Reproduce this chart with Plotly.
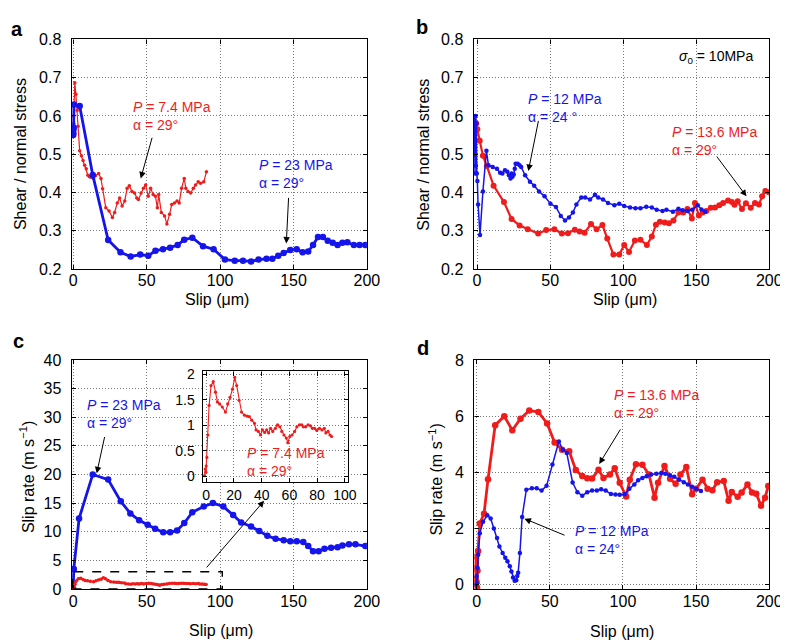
import plotly.graph_objects as go

BLUE = "rgb(20,20,235)"
RED = "rgb(240,28,28)"
FONT = "Liberation Sans, Arial, Helvetica, sans-serif"

# ---------------- Panel a: shear / normal stress vs slip ----------------
a_blue_x = [0, 0.1, 0.2, 0.3, 0.5, 4.4, 13.3, 23.8, 32.2, 39.1, 45.6, 51.1, 56.0, 61.1, 66.0,
            71.1, 75.6, 81.1, 88.4, 95.6, 103.3, 110.0, 115.6, 121.1, 126.2, 131.6, 135.6, 139.6,
            143.3, 147.8, 152.2, 156.2, 160.0, 163.3, 166.7, 170.0, 173.3, 176.7, 180.0, 183.3,
            186.7, 191.1, 195.0, 198.9]
a_blue_y = [0.55, 0.555, 0.565, 0.57, 0.63, 0.626, 0.446, 0.276, 0.244, 0.233, 0.238, 0.235, 0.248,
            0.252, 0.256, 0.263, 0.277, 0.282, 0.26, 0.252, 0.225, 0.222, 0.222, 0.22, 0.225, 0.227,
            0.227, 0.235, 0.242, 0.25, 0.252, 0.244, 0.246, 0.263, 0.284, 0.284, 0.274, 0.269, 0.263,
            0.269, 0.27, 0.263, 0.263, 0.263]
a_red_x = [0, 0.2, 0.4, 0.6, 1.1, 1.8, 2.7, 3.3, 4.4, 5.6, 6.7, 7.8, 8.9, 10.0, 11.1, 12.2, 13.8,
           15.1, 17.3, 18.9, 20.0, 22.2, 24.4, 26.7, 28.2, 30.0, 31.6, 33.3, 35.1, 36.7, 38.2, 40.0,
           41.8, 43.3, 44.4, 46.2, 47.8, 49.3, 51.1, 52.7, 54.4, 56.0, 57.3, 58.2, 60.0, 62.2, 63.8,
           65.6, 67.1, 68.9, 70.7, 72.2, 73.8, 75.6, 76.7, 78.2, 80.0, 81.8, 83.3, 85.1, 86.7, 88.9,
           90.7]
a_red_y = [0.556, 0.6, 0.58, 0.632, 0.687, 0.657, 0.615, 0.573, 0.509, 0.496, 0.484, 0.471, 0.462,
           0.445, 0.441, 0.44, 0.437, 0.444, 0.45, 0.437, 0.41, 0.36, 0.352, 0.335, 0.348, 0.373,
           0.386, 0.365, 0.378, 0.411, 0.418, 0.403, 0.399, 0.386, 0.382, 0.399, 0.411, 0.42, 0.39,
           0.411, 0.395, 0.39, 0.36, 0.395, 0.348, 0.339, 0.318, 0.343, 0.369, 0.373, 0.378, 0.373,
           0.411, 0.437, 0.411, 0.403, 0.399, 0.411, 0.42, 0.428, 0.424, 0.428, 0.454]

# ---------------- Panel b ----------------
b_blue_x = [-2.0, -1.7, -1.4, -1.1, -0.8, -0.5, -0.2, 0.2, 0.7, 2.0, 4.0, 6.4, 7.8, 10.7, 13.6,
            15.8, 17.3, 19.1, 20.7, 21.8, 22.9, 23.6, 24.2, 25.1, 25.8, 26.4, 27.8, 29.1, 30.2,
            32.9, 36.2, 39.1, 42.4, 46.2, 50.2, 54.0, 57.3, 60.2, 62.9, 65.6, 68.0, 71.3, 74.0,
            77.3, 80.7, 82.9, 86.2, 89.6, 94.0, 97.3, 100.7, 104.7, 108.4, 111.8, 115.8, 119.6,
            122.9, 126.9, 129.6, 134.0, 137.8, 140.7, 144.0, 147.3, 151.1, 153.6, 156.2]
b_blue_y = [0.5, 0.59, 0.45, 0.6, 0.47, 0.58, 0.45, 0.43, 0.369, 0.289, 0.403, 0.509, 0.471,
            0.467, 0.462, 0.452, 0.45, 0.458, 0.454, 0.445, 0.437, 0.45, 0.441, 0.447, 0.462,
            0.475, 0.475, 0.471, 0.467, 0.445, 0.428, 0.418, 0.403, 0.39, 0.371, 0.362, 0.339,
            0.327, 0.335, 0.348, 0.369, 0.387, 0.387, 0.382, 0.394, 0.387, 0.382, 0.373, 0.367,
            0.371, 0.365, 0.361, 0.359, 0.359, 0.363, 0.361, 0.355, 0.352, 0.355, 0.35, 0.358,
            0.354, 0.352, 0.355, 0.367, 0.356, 0.35]
b_red_x = [-2.0, -1.8, -1.2, -0.5, 0.2, 1.8, 4.0, 6.7, 11.3, 18.4, 23.6, 29.1, 34.7, 41.8, 47.3,
           52.9, 58.0, 62.2, 66.9, 70.2, 73.6, 78.0, 81.8, 85.8, 89.1, 93.3, 97.3, 100.7, 104.0,
           108.0, 111.8, 116.2, 119.6, 122.4, 125.1, 128.4, 131.3, 134.4, 137.8, 141.1, 144.0,
           147.0, 149.1, 151.8, 154.4, 156.9, 160.0, 162.9, 165.8, 168.4, 171.8, 174.4, 176.2,
           178.4, 181.3, 184.0, 187.3, 190.2, 192.9, 195.1, 197.3, 199.6]
b_red_y = [0.56, 0.575, 0.56, 0.58, 0.565, 0.535, 0.496, 0.469, 0.418, 0.375, 0.331, 0.314, 0.304,
           0.293, 0.302, 0.304, 0.293, 0.294, 0.303, 0.298, 0.295, 0.318, 0.304, 0.315, 0.28,
           0.238, 0.238, 0.263, 0.245, 0.275, 0.277, 0.263, 0.285, 0.316, 0.324, 0.322, 0.32,
           0.327, 0.348, 0.348, 0.357, 0.332, 0.373, 0.34, 0.348, 0.352, 0.36, 0.361, 0.367,
           0.373, 0.379, 0.375, 0.368, 0.377, 0.357, 0.372, 0.36, 0.373, 0.369, 0.39, 0.404, 0.401]

# ---------------- Panel c: slip rate ----------------
c_blue_x = [0, 0.4, 4.0, 13.3, 23.8, 32.4, 38.9, 44.9, 50.7, 55.8, 61.3, 66.0, 70.7, 75.6, 81.1,
            88.9, 95.1, 102.2, 108.9, 114.4, 121.1, 126.7, 132.2, 137.8, 143.3, 147.8, 152.2,
            156.7, 160.0, 163.3, 167.1, 171.1, 175.6, 180.0, 183.3, 187.8, 192.2, 198.9]
c_blue_y = [0, 3.5, 12.3, 20.0, 19.1, 15.3, 13.2, 12.0, 11.2, 10.5, 9.9, 9.9, 10.2, 11.5, 13.4,
            14.4, 15.0, 14.4, 12.9, 11.6, 10.9, 10.1, 9.3, 8.75, 8.5, 8.35, 8.35, 8.2, 7.5, 6.6,
            6.6, 7.0, 7.2, 7.3, 7.6, 7.8, 7.8, 7.5]
c_red_x = [-1.2, -0.7, -0.2, 0, 0.5, 1.2, 2.1, 3.5, 5.1, 6.7, 8.1, 9.7, 11.6, 13.9, 15.5, 17.2,
           19.0, 20.6, 22.0, 23.7, 25.5, 27.6, 29.5, 31.1, 32.9, 34.8, 36.0, 37.6, 39.2, 40.6,
           42.2, 43.6, 45.0, 46.4, 48.0, 49.9, 51.5, 53.1, 54.5, 56.1, 57.8, 58.9, 60.3, 61.9,
           63.8, 65.4, 67.3, 68.9, 70.1, 71.7, 73.5, 75.2, 76.6, 78.2, 79.8, 81.7, 83.5, 85.2,
           86.3, 87.9, 89.3, 90.5]
c_red_y = [0.01, 0.14, 0.08, 0.2, 0.37, 0.81, 1.39, 1.78, 1.86, 1.65, 1.46, 1.42, 1.36, 1.26,
           1.42, 1.55, 1.71, 1.94, 1.78, 1.49, 1.26, 1.2, 1.18, 1.17, 1.1, 1.04, 0.91, 0.88, 0.81,
           0.91, 0.86, 0.91, 0.85, 0.94, 0.88, 0.94, 1.01, 0.97, 0.88, 0.81, 0.75, 0.66, 0.78,
           0.81, 0.88, 0.97, 1.01, 1.01, 0.97, 0.97, 1.01, 0.99, 0.94, 0.94, 0.9, 0.94, 0.91,
           0.94, 0.85, 0.88, 0.81, 0.78]

# ---------------- Panel d ----------------
d_red_x = [-0.7, -0.5, -0.3, 0, 0.3, 0.6, 1.0, 2.2, 5.1, 7.8, 12.7, 18.9, 24.4, 30.0, 36.0, 42.2,
           48.2, 53.3, 58.4, 63.3, 67.8, 72.2, 75.6, 78.9, 83.3, 86.7, 91.1, 94.4, 97.8, 102.2,
           104.7, 108.9, 113.3, 117.8, 121.6, 124.0, 128.4, 132.2, 136.0, 139.3, 143.3, 147.3,
           150.0, 154.4, 157.8, 161.1, 164.4, 168.9, 172.2, 174.4, 178.4, 181.1, 185.1, 188.2,
           191.1, 194.4, 197.1, 199.3]
d_red_y = [0.2, 1.0, 0.6, 0.1, -0.1, 0.5, 1.2, 2.18, 2.53, 3.75, 5.68, 6.0, 5.5, 5.91, 6.2, 6.15,
           5.74, 5.06, 4.8, 4.75, 4.08, 3.87, 3.79, 3.78, 4.09, 3.8, 3.92, 4.15, 3.63, 3.14, 3.74,
           4.29, 4.27, 3.92, 3.1, 3.63, 4.23, 3.77, 3.59, 3.92, 4.19, 3.22, 3.42, 3.74, 3.42, 3.36,
           3.65, 3.69, 2.99, 3.3, 3.13, 3.28, 3.57, 3.28, 3.24, 2.81, 3.1, 3.51]
d_blue_x = [-0.5, 0, 0.3, 0.6, 1.1, 2.2, 4.4, 7.3, 9.6, 11.8, 14.0, 15.6, 17.8, 19.6, 21.1, 22.7,
            23.8, 24.9, 26.0, 27.1, 27.8, 28.4, 29.6, 31.1, 34.0, 37.8, 41.1, 44.4, 47.8, 51.8,
            56.2, 58.9, 61.6, 65.6, 68.9, 72.2, 75.6, 78.9, 82.2, 85.1, 88.2, 91.8, 94.9, 97.8,
            101.1, 104.4, 107.8, 110.4, 113.3, 116.2, 119.3, 122.9, 126.2, 128.9, 132.2, 135.1,
            138.4, 141.6, 144.4, 147.3, 150.0, 153.3]
d_blue_y = [0.0, 0.3, 0.05, 0.6, 1.07, 1.83, 2.24, 2.47, 2.36, 2.0, 1.66, 1.36, 1.13, 0.96, 0.84,
            0.66, 0.47, 0.26, 0.14, 0.16, 0.31, 0.43, 1.13, 2.41, 3.38, 3.43, 3.43, 3.35, 3.52,
            4.28, 5.1, 4.8, 4.69, 3.64, 3.29, 3.17, 3.29, 3.35, 3.35, 3.4, 3.35, 3.23, 3.21, 3.2,
            3.22, 3.42, 3.57, 3.72, 3.8, 3.86, 3.92, 3.95, 3.98, 3.95, 3.9, 3.84, 3.74, 3.65, 3.57,
            3.49, 3.42, 3.34]

W, H = 788, 643


def px(x):
    return x / W


def py(y):
    return 1 - y / H


fig = go.Figure()


def line(x, y, color, lw, ms, xa, ya):
    fig.add_trace(go.Scatter(x=x, y=y, mode="lines+markers", xaxis=xa, yaxis=ya,
                             line=dict(color=color, width=lw),
                             marker=dict(color=color, size=ms, line=dict(width=0)),
                             showlegend=False, hoverinfo="skip"))


line(a_red_x, a_red_y, RED, 1.2, 3.5, "x", "y")
line(a_blue_x, a_blue_y, BLUE, 2.8, 6.5, "x", "y")
line(b_red_x, b_red_y, RED, 2.2, 6, "x2", "y2")
line(b_blue_x, b_blue_y, BLUE, 1.5, 4.5, "x2", "y2")
line(c_blue_x, c_blue_y, BLUE, 2.8, 6.5, "x3", "y3")
line(c_red_x, c_red_y, RED, 2.2, 3.5, "x3", "y3")
line(d_red_x, d_red_y, RED, 2.8, 6.5, "x4", "y4")
line(d_blue_x, d_blue_y, BLUE, 1.5, 4.5, "x4", "y4")
line(c_red_x, c_red_y, RED, 1.1, 3.2, "x5", "y5")


def ax(domain, rng, dtick, anchor, fmt=None, size=16, standoff=0):
    d = dict(domain=domain, range=rng, dtick=dtick, tick0=0, anchor=anchor,
             showline=True, linecolor="black", linewidth=1.4, mirror="allticks",
             ticks="inside", ticklen=4, tickcolor="black", tickwidth=1,
             showgrid=True, gridcolor="#7a7a7a", griddash="1px,2px", gridwidth=1,
             zeroline=False, ticklabelstandoff=standoff,
             tickfont=dict(family=FONT, size=size, color="black"))
    if fmt:
        d["tickformat"] = fmt
    return d


xa_dom = [px(62), px(363.3)]
xb_dom = [px(472.3), px(774)]
y_top = [py(260), py(24)]
y_bot = [py(588.5), py(353.3)]

fig.update_layout(
    width=W, height=H, margin=dict(l=0, r=0, t=0, b=0),
    paper_bgcolor="white", plot_bgcolor="#ffffff",
    xaxis=ax(xa_dom, [-1, 200], 50, "y", standoff=-4),
    yaxis=ax(y_top, [0.2, 0.8], 0.1, "x", ".1f", standoff=6),
    xaxis2=ax(xb_dom, [-2.3, 200], 50, "y2", standoff=-4),
    yaxis2=ax(y_top, [0.2, 0.8], 0.1, "x2", ".1f", standoff=6),
    xaxis3=ax(xa_dom, [-1, 200], 50, "y3", standoff=-2),
    yaxis3=ax(y_bot, [0, 40], 5, "x3", standoff=6),
    xaxis4=ax([px(473), px(774)], [-1.5, 200], 50, "y4", standoff=-2),
    yaxis4=ax(y_bot, [-0.15, 8], 2, "x4", standoff=6),
    xaxis5=ax([px(195.7), px(344.3)], [-2.5, 102.5], 20, "y5", size=14),
    yaxis5=ax([py(479), py(365)], [-0.12, 2.06], 0.5, "x5", size=14, standoff=4),
)

ann = []


def txt(x, y, t, color, xref, yref, size=14, xanchor="left"):
    ann.append(dict(x=x, y=y, xref=xref, yref=yref, text=t, showarrow=False, align="left",
                    xanchor=xanchor, yanchor="middle",
                    font=dict(family=FONT, size=size, color=color)))


def arrow(x, y, axx, ayy, xref, yref):
    ann.append(dict(x=x, y=y, ax=axx, ay=ayy, xref=xref, yref=yref, axref=xref, ayref=yref,
                    text="", showarrow=True, arrowhead=2, arrowsize=1.3, arrowwidth=1,
                    arrowcolor="black", standoff=0, startstandoff=0))


# panel a
txt(39.1, 0.599, "<i>P</i> = 7.4 MPa<br>α = 29°", RED, "x", "y")
arrow(46, 0.437, 54, 0.547, "x", "y")
txt(125.1, 0.449, "<i>P</i> = 23 MPa<br>α = 29°", BLUE, "x", "y")
arrow(145.1, 0.267, 146.7, 0.39, "x", "y")
# panel b
txt(163.5, 0.754, "<i>σ</i><sub>0</sub> = 10MPa", "black", "x2", "y2", size=14, xanchor="center")
txt(33.5, 0.622, "<i>P</i> = 12 MPa<br>α = 24 °", BLUE, "x2", "y2")
arrow(35.1, 0.456, 42.2, 0.591, "x2", "y2")
txt(132.2, 0.535, "<i>P</i> = 13.6 MPa<br>α = 29°", RED, "x2", "y2")
arrow(184.4, 0.39, 163.3, 0.498, "x2", "y2")
# panel c
txt(7.8, 30.5, "<i>P</i> = 23 MPa<br>α = 29°", BLUE, "x3", "y3")
arrow(16, 20.2, 21.6, 26.8, "x3", "y3")
arrow(130, 15.4, 90, 3.5, "x3", "y3")
txt(28.2, 0.275, "<i>P</i> = 7.4 MPa<br>α = 29°", RED, "x5", "y5")
# panel d
txt(92.7, 6.42, "<i>P</i> = 13.6 MPa<br>α = 29°", RED, "x4", "y4")
arrow(83.8, 4.3, 98.9, 5.58, "x4", "y4")
txt(66, 1.59, "<i>P</i> = 12 MPa<br>α = 24°", BLUE, "x4", "y4")
arrow(32.7, 2.35, 61.1, 1.74, "x4", "y4")

# axis titles
for (cx, cy) in [(210, 291), (627, 291), (214, 631), (624, 632)]:
    txt(px(cx), py(cy), "Slip (μm)", "black", "paper", "paper", size=16, xanchor="center")


def ytitle(cx, cy, t):
    ann.append(dict(x=px(cx), y=py(cy), xref="paper", yref="paper", text=t, showarrow=False,
                    textangle=-90, xanchor="center", yanchor="middle",
                    font=dict(family=FONT, size=16, color="black")))


ytitle(9, 142, "Shear / normal stress")
ytitle(421, 142, "Shear / normal stress")
ytitle(17, 474, "Slip rate (m s<sup>−1</sup>)")
ytitle(434, 476, "Slip rate (m s<sup>−1</sup>)")

# panel letters
for (cx, cy, t) in [(6, 13, "a"), (420, 11, "b"), (8, 334, "c"), (421, 341, "d")]:
    txt(px(cx), py(cy), "<b>%s</b>" % t, "black", "paper", "paper", size=20, xanchor="center")

fig.update_layout(annotations=ann)

fig.add_shape(type="rect", xref="x3", yref="y3", x0=-0.5, x1=101.5, y0=0, y1=3,
              line=dict(color="black", width=1.4, dash="dash"), layer="above")

fig.write_html("out.html")
